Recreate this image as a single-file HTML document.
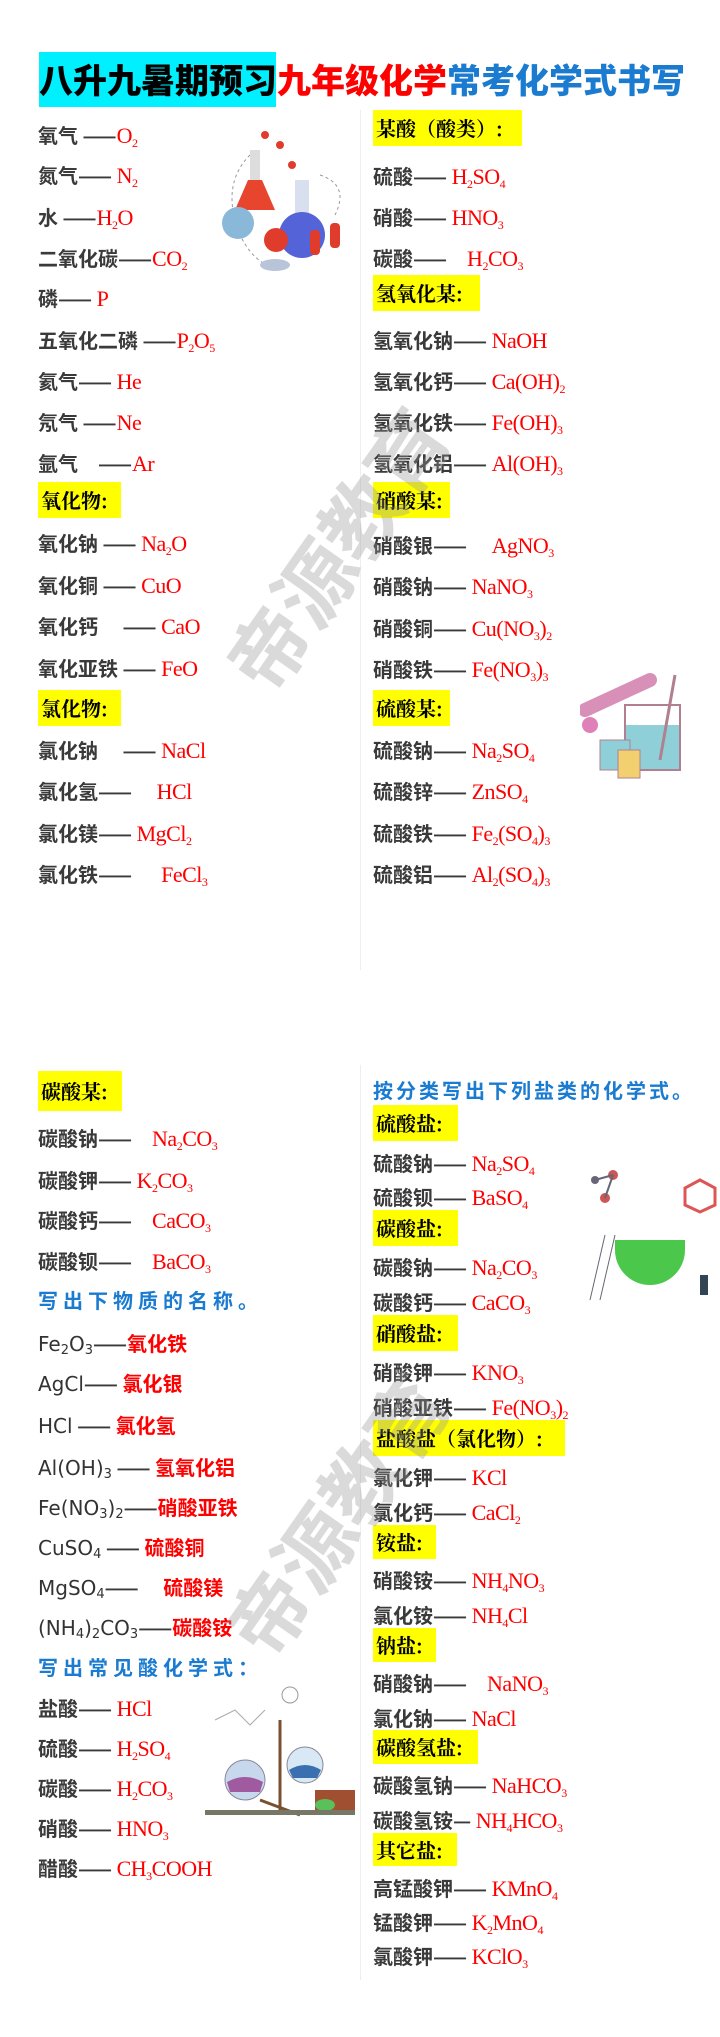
<!DOCTYPE html>
<html><head><meta charset="utf-8">
<style>
body{margin:0;width:720px;height:2037px;background:#fff;position:relative;overflow:hidden;font-family:"Liberation Sans","Noto Sans CJK SC",sans-serif}
.r{position:absolute;height:26px;line-height:26px;white-space:nowrap;font-size:20px;font-weight:bold;color:#3a3a3a;font-family:"Noto Sans CJK SC",sans-serif}
.L{left:38px}.R{left:373px}
.f{font-family:"Liberation Serif","Noto Serif CJK SC",serif;color:#f00;font-size:22px;font-weight:normal;letter-spacing:-0.5px}
.f sub{font-size:12px;vertical-align:-4px;line-height:0}
.h{position:absolute;height:36px;line-height:36px;background:#ffff00;font-family:"Noto Serif CJK SC",serif;font-weight:bold;color:#000;font-size:20px;padding-left:3px;white-space:nowrap}
.b{position:absolute;color:#1a7bd0;font-weight:bold;font-size:20px;letter-spacing:5px;font-family:"Noto Sans CJK SC",sans-serif;white-space:nowrap;height:26px;line-height:26px}
.s{font-family:"DejaVu Sans",sans-serif;font-weight:normal;color:#333;font-size:20px}
.s sub{font-size:13px;vertical-align:-3px;line-height:0}
.n{color:#f00;font-weight:bold}
.wm{position:absolute;font-size:80px;color:rgba(150,150,150,0.35);transform:rotate(-55deg);font-family:"Noto Sans CJK SC",sans-serif;white-space:nowrap;font-weight:bold}
</style></head><body>
<div style="position:absolute;left:39px;top:52px;width:237px;height:55px;background:#00f0ff"></div>
<div style="position:absolute;left:39px;top:56px;font-size:34px;font-weight:900;line-height:46px;white-space:nowrap;font-family:'Noto Sans CJK SC',sans-serif"><span style="color:#000">八升九暑期预习</span><span style="color:#f00">九年级化学</span><span style="color:#1a7bd0">常考化学式书写</span></div>
<div style="position:absolute;left:360px;top:110px;width:1px;height:860px;background:#eee"></div>
<div style="position:absolute;left:360px;top:1065px;width:1px;height:915px;background:#eee"></div>

<!-- top left -->
<div class="r L" style="top:122px">氧气 ——<span class="f">O<sub>2</sub></span></div>
<div class="r L" style="top:162px">氮气—— <span class="f">N<sub>2</sub></span></div>
<div class="r L" style="top:204px">水 ——<span class="f">H<sub>2</sub>O</span></div>
<div class="r L" style="top:245px">二氧化碳——<span class="f">CO<sub>2</sub></span></div>
<div class="r L" style="top:285px">磷—— <span class="f">P</span></div>
<div class="r L" style="top:327px">五氧化二磷 ——<span class="f">P<sub>2</sub>O<sub>5</sub></span></div>
<div class="r L" style="top:368px">氦气—— <span class="f">He</span></div>
<div class="r L" style="top:409px">氖气 ——<span class="f">Ne</span></div>
<div class="r L" style="top:450px">氩气　——<span class="f">Ar</span></div>
<div class="h" style="left:38px;top:482px;width:80px">氧化物:</div>
<div class="r L" style="top:530px">氧化钠 —— <span class="f">Na<sub>2</sub>O</span></div>
<div class="r L" style="top:572px">氧化铜 —— <span class="f">CuO</span></div>
<div class="r L" style="top:613px">氧化钙 　—— <span class="f">CaO</span></div>
<div class="r L" style="top:655px">氧化亚铁 —— <span class="f">FeO</span></div>
<div class="h" style="left:38px;top:690px;width:80px">氯化物:</div>
<div class="r L" style="top:737px">氯化钠 　—— <span class="f">NaCl</span></div>
<div class="r L" style="top:778px">氯化氢—— 　<span class="f">HCl</span></div>
<div class="r L" style="top:820px">氯化镁—— <span class="f">MgCl<sub>2</sub></span></div>
<div class="r L" style="top:861px">氯化铁—— 　 <span class="f">FeCl<sub>3</sub></span></div>

<!-- top right -->
<div class="h" style="left:373px;top:110px;width:146px">某酸（酸类）:</div>
<div class="r R" style="top:163px">硫酸—— <span class="f">H<sub>2</sub>SO<sub>4</sub></span></div>
<div class="r R" style="top:204px">硝酸—— <span class="f">HNO<sub>3</sub></span></div>
<div class="r R" style="top:245px">碳酸——　<span class="f">H<sub>2</sub>CO<sub>3</sub></span></div>
<div class="h" style="left:373px;top:275px;width:104px">氢氧化某:</div>
<div class="r R" style="top:327px">氢氧化钠—— <span class="f">NaOH</span></div>
<div class="r R" style="top:368px">氢氧化钙—— <span class="f">Ca(OH)<sub>2</sub></span></div>
<div class="r R" style="top:409px">氢氧化铁—— <span class="f">Fe(OH)<sub>3</sub></span></div>
<div class="r R" style="top:450px">氢氧化铝—— <span class="f">Al(OH)<sub>3</sub></span></div>
<div class="h" style="left:373px;top:482px;width:74px">硝酸某:</div>
<div class="r R" style="top:532px">硝酸银—— 　<span class="f">AgNO<sub>3</sub></span></div>
<div class="r R" style="top:573px">硝酸钠—— <span class="f">NaNO<sub>3</sub></span></div>
<div class="r R" style="top:615px">硝酸铜—— <span class="f">Cu(NO<sub>3</sub>)<sub>2</sub></span></div>
<div class="r R" style="top:656px">硝酸铁—— <span class="f">Fe(NO<sub>3</sub>)<sub>3</sub></span></div>
<div class="h" style="left:373px;top:690px;width:74px">硫酸某:</div>
<div class="r R" style="top:737px">硫酸钠—— <span class="f">Na<sub>2</sub>SO<sub>4</sub></span></div>
<div class="r R" style="top:778px">硫酸锌—— <span class="f">ZnSO<sub>4</sub></span></div>
<div class="r R" style="top:820px">硫酸铁—— <span class="f">Fe<sub>2</sub>(SO<sub>4</sub>)<sub>3</sub></span></div>
<div class="r R" style="top:861px">硫酸铝—— <span class="f">Al<sub>2</sub>(SO<sub>4</sub>)<sub>3</sub></span></div>

<!-- bottom left -->
<div class="h" style="left:38px;top:1071px;width:81px;height:40px;line-height:40px">碳酸某:</div>
<div class="r L" style="top:1125px">碳酸钠——　<span class="f">Na<sub>2</sub>CO<sub>3</sub></span></div>
<div class="r L" style="top:1167px">碳酸钾—— <span class="f">K<sub>2</sub>CO<sub>3</sub></span></div>
<div class="r L" style="top:1207px">碳酸钙——　<span class="f">CaCO<sub>3</sub></span></div>
<div class="r L" style="top:1248px">碳酸钡——　<span class="f">BaCO<sub>3</sub></span></div>
<div class="b" style="left:38px;top:1287px">写出下物质的名称。</div>
<div class="r L" style="top:1330px"><span class="s">Fe<sub>2</sub>O<sub>3</sub></span>——<span class="n">氧化铁</span></div>
<div class="r L" style="top:1370px"><span class="s">AgCl</span>—— <span class="n">氯化银</span></div>
<div class="r L" style="top:1412px"><span class="s">HCl</span> —— <span class="n">氯化氢</span></div>
<div class="r L" style="top:1454px"><span class="s">Al(OH)<sub>3</sub></span> —— <span class="n">氢氧化铝</span></div>
<div class="r L" style="top:1494px"><span class="s">Fe(NO<sub>3</sub>)<sub>2</sub></span>——<span class="n">硝酸亚铁</span></div>
<div class="r L" style="top:1534px"><span class="s">CuSO<sub>4</sub></span> —— <span class="n">硫酸铜</span></div>
<div class="r L" style="top:1574px"><span class="s">MgSO<sub>4</sub></span>—— 　<span class="n">硫酸镁</span></div>
<div class="r L" style="top:1614px"><span class="s">(NH<sub>4</sub>)<sub>2</sub>CO<sub>3</sub></span>——<span class="n">碳酸铵</span></div>
<div class="b" style="left:38px;top:1654px">写出常见酸化学式：</div>
<div class="r L" style="top:1695px">盐酸—— <span class="f">HCl</span></div>
<div class="r L" style="top:1735px">硫酸—— <span class="f">H<sub>2</sub>SO<sub>4</sub></span></div>
<div class="r L" style="top:1775px">碳酸—— <span class="f">H<sub>2</sub>CO<sub>3</sub></span></div>
<div class="r L" style="top:1815px">硝酸—— <span class="f">HNO<sub>3</sub></span></div>
<div class="r L" style="top:1855px">醋酸—— <span class="f">CH<sub>3</sub>COOH</span></div>

<!-- bottom right -->
<div class="b" style="left:373px;top:1077px;letter-spacing:3px">按分类写出下列盐类的化学式。</div>
<div class="h" style="left:373px;top:1105px;width:82px">硫酸盐:</div>
<div class="r R" style="top:1150px">硫酸钠—— <span class="f">Na<sub>2</sub>SO<sub>4</sub></span></div>
<div class="r R" style="top:1184px">硫酸钡—— <span class="f">BaSO<sub>4</sub></span></div>
<div class="h" style="left:373px;top:1210px;width:82px">碳酸盐:</div>
<div class="r R" style="top:1254px">碳酸钠—— <span class="f">Na<sub>2</sub>CO<sub>3</sub></span></div>
<div class="r R" style="top:1289px">碳酸钙—— <span class="f">CaCO<sub>3</sub></span></div>
<div class="h" style="left:373px;top:1315px;width:82px">硝酸盐:</div>
<div class="r R" style="top:1359px">硝酸钾—— <span class="f">KNO<sub>3</sub></span></div>
<div class="r R" style="top:1394px">硝酸亚铁—— <span class="f">Fe(NO<sub>3</sub>)<sub>2</sub></span></div>
<div class="h" style="left:373px;top:1420px;width:189px">盐酸盐（氯化物）:</div>
<div class="r R" style="top:1464px">氯化钾—— <span class="f">KCl</span></div>
<div class="r R" style="top:1499px">氯化钙—— <span class="f">CaCl<sub>2</sub></span></div>
<div class="h" style="left:373px;top:1525px;width:60px;height:34px;line-height:34px">铵盐:</div>
<div class="r R" style="top:1567px">硝酸铵—— <span class="f">NH<sub>4</sub>NO<sub>3</sub></span></div>
<div class="r R" style="top:1602px">氯化铵—— <span class="f">NH<sub>4</sub>Cl</span></div>
<div class="h" style="left:373px;top:1628px;width:60px;height:34px;line-height:34px">钠盐:</div>
<div class="r R" style="top:1670px">硝酸钠——　<span class="f">NaNO<sub>3</sub></span></div>
<div class="r R" style="top:1705px">氯化钠—— <span class="f">NaCl</span></div>
<div class="h" style="left:373px;top:1730px;width:102px;height:34px;line-height:34px">碳酸氢盐:</div>
<div class="r R" style="top:1772px">碳酸氢钠—— <span class="f">NaHCO<sub>3</sub></span></div>
<div class="r R" style="top:1807px">碳酸氢铵— <span class="f">NH<sub>4</sub>HCO<sub>3</sub></span></div>
<div class="h" style="left:373px;top:1833px;width:81px;height:33px;line-height:33px">其它盐:</div>
<div class="r R" style="top:1875px">高锰酸钾—— <span class="f">KMnO<sub>4</sub></span></div>
<div class="r R" style="top:1909px">锰酸钾—— <span class="f">K<sub>2</sub>MnO<sub>4</sub></span></div>
<div class="r R" style="top:1943px">氯酸钾—— <span class="f">KClO<sub>3</sub></span></div>

<!-- illustrations -->
<svg style="position:absolute;left:210px;top:125px" width="135" height="155">
<path d="M40 30 Q10 60 30 110 Q50 150 80 140" fill="none" stroke="#999" stroke-dasharray="3,3"/>
<path d="M110 50 Q140 60 125 90" fill="none" stroke="#999" stroke-dasharray="3,3"/>
<rect x="40" y="25" width="10" height="30" fill="#ddd"/>
<polygon points="38,55 52,55 65,85 25,85" fill="#e8452f"/>
<rect x="85" y="55" width="14" height="35" fill="#d8e0f0"/>
<circle cx="92" cy="110" r="23" fill="#5563d8"/>
<circle cx="28" cy="98" r="16" fill="#8ab8d8"/>
<circle cx="66" cy="115" r="12" fill="#e03c2c"/>
<rect x="100" y="105" width="10" height="25" rx="4" fill="#e03c2c"/>
<rect x="120" y="98" width="10" height="25" rx="4" fill="#e03c2c"/>
<ellipse cx="65" cy="140" rx="15" ry="6" fill="#b8c4d8"/>
<circle cx="55" cy="10" r="4" fill="#e03c2c"/><circle cx="70" cy="20" r="4" fill="#e03c2c"/><circle cx="82" cy="40" r="4" fill="#e03c2c"/>
</svg>
<svg style="position:absolute;left:580px;top:670px" width="110" height="110">
<path d="M5 40 L70 10" stroke="#d890b8" stroke-width="14" stroke-linecap="round"/>
<rect x="45" y="35" width="55" height="65" fill="none" stroke="#b08090" stroke-width="2"/>
<rect x="46" y="55" width="53" height="44" fill="#8fd0d8"/>
<rect x="20" y="70" width="30" height="30" fill="#8fd0d8" stroke="#b08090"/>
<rect x="38" y="80" width="22" height="28" fill="#f2d070" stroke="#b08090"/>
<circle cx="10" cy="55" r="8" fill="#e080b8"/>
<line x1="80" y1="90" x2="95" y2="5" stroke="#b08090" stroke-width="3"/>
</svg>
<svg style="position:absolute;left:575px;top:1160px" width="145" height="150">
<circle cx="20" cy="20" r="4" fill="#667"/><circle cx="38" cy="15" r="5" fill="#c55"/><circle cx="30" cy="38" r="5" fill="#c55"/>
<line x1="20" y1="20" x2="38" y2="15" stroke="#667" stroke-width="2"/><line x1="38" y1="15" x2="30" y2="38" stroke="#667" stroke-width="2"/>
<polygon points="125,20 140,28 140,45 125,52 110,45 110,28" fill="none" stroke="#d55" stroke-width="3"/>
<path d="M40 90 A35 35 0 0 0 110 90 L110 80 L40 80 Z" fill="#4bc84b"/>
<line x1="15" y1="140" x2="30" y2="75" stroke="#667"/><line x1="25" y1="140" x2="40" y2="75" stroke="#667"/>
<rect x="125" y="115" width="8" height="20" fill="#345"/>
</svg>
<svg style="position:absolute;left:205px;top:1680px" width="155" height="140">
<circle cx="85" cy="15" r="8" fill="none" stroke="#999"/>
<path d="M10 40 L30 30 L45 45 L60 30" fill="none" stroke="#aaa"/>
<line x1="75" y1="40" x2="75" y2="130" stroke="#7a5030" stroke-width="3"/>
<line x1="55" y1="120" x2="95" y2="135" stroke="#7a5030" stroke-width="3"/>
<circle cx="40" cy="100" r="20" fill="#c8d8ec" stroke="#889"/>
<path d="M22 102 Q40 92 58 102 L55 112 L25 112Z" fill="#a05aa0"/>
<circle cx="100" cy="85" r="18" fill="#d8e8f4" stroke="#889"/>
<path d="M84 90 Q100 80 116 90 L112 98 L88 98Z" fill="#3a70b0"/>
<rect x="110" y="110" width="40" height="20" fill="#a05030"/>
<ellipse cx="120" cy="125" rx="10" ry="6" fill="#5ac05a"/>
<rect x="0" y="130" width="150" height="5" fill="#776"/>
</svg>

<div class="wm" style="left:175px;top:490px">帝源教育</div>
<div class="wm" style="left:175px;top:1455px">帝源教育</div>
</body></html>
